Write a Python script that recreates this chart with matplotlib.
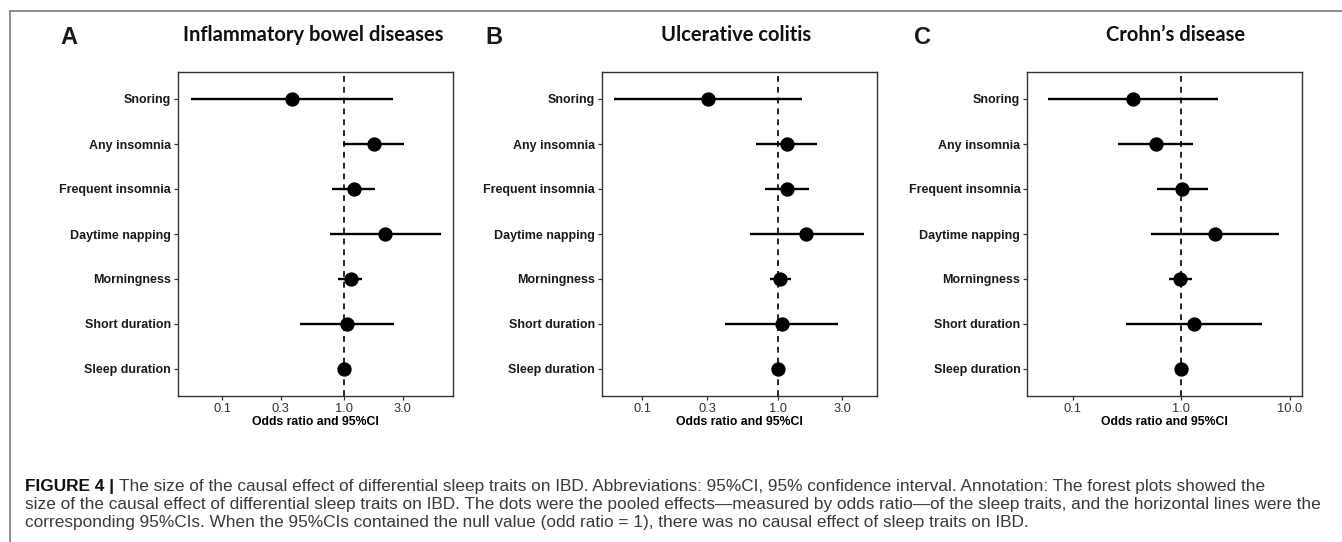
import matplotlib
matplotlib.use('Agg')
import matplotlib.pyplot as plt
from matplotlib.lines import Line2D
import numpy as np

# sleep traits, top to bottom
traits = ['Snoring', 'Any insomnia', 'Frequent insomnia', 'Daytime napping',
          'Morningness', 'Short duration', 'Sleep duration']

# odds ratios with 95% CI
ibd_or = [0.37, 1.73, 1.20, 2.15, 1.12, 1.05, 1.00]
ibd_lo = [0.055, 0.97, 0.79, 0.76, 0.89, 0.43, 0.97]
ibd_hi = [2.48, 3.09, 1.79, 6.10, 1.40, 2.56, 1.03]

uc_or = [0.306, 1.16, 1.16, 1.62, 1.04, 1.08, 1.00]
uc_lo = [0.062, 0.69, 0.80, 0.62, 0.87, 0.41, 0.97]
uc_hi = [1.51, 1.94, 1.69, 4.34, 1.25, 2.77, 1.03]

cd_or = [0.364, 0.586, 1.02, 2.05, 0.98, 1.31, 1.00]
cd_lo = [0.060, 0.265, 0.60, 0.53, 0.77, 0.31, 0.97]
cd_hi = [2.18, 1.29, 1.75, 7.93, 1.25, 5.50, 1.03]

titles = ['Inflammatory bowel diseases', 'Ulcerative colitis', "Crohn\u2019s disease"]
letters = ['A', 'B', 'C']
xticks_ab = [0.1, 0.3, 1.0, 3.0]
xticks_c = [0.1, 1.0, 10.0]
# panel C uses fixed scale limits
limits_c = (0.05, 10.0)

caption_bold = 'FIGURE 4 | '
caption = [
    'The size of the causal effect of differential sleep traits on IBD. Abbreviations: 95%CI, 95% confidence interval. Annotation: The forest plots showed the',
    'size of the causal effect of differential sleep traits on IBD. The dots were the pooled effects\u2014measured by odds ratio\u2014of the sleep traits, and the horizontal lines were the',
    'corresponding 95%CIs. When the 95%CIs contained the null value (odd ratio = 1), there was no causal effect of sleep traits on IBD.',
]

W, H = 1342, 542
fig = plt.figure(figsize=(W / 100, H / 100), dpi=100)
fig.patch.set_facecolor('white')

# outer frame (top and left edge)
fig.add_artist(Line2D([9.5 / W, 1.0], [1 - 10.5 / H, 1 - 10.5 / H], color='#7a7a7a', lw=1.2))
fig.add_artist(Line2D([9.5 / W, 9.5 / W], [1 - 10.5 / H, 0.0], color='#7a7a7a', lw=1.2))

panels = [(ibd_or, ibd_lo, ibd_hi), (uc_or, uc_lo, uc_hi), (cd_or, cd_lo, cd_hi)]
lefts = [178, 601.7, 1027.3]
title_x = [313, 736, 1176]
letter_x = [69, 494, 923]
ax_w = 275.0
ax_top, ax_bot = 72, 396

y = np.arange(len(traits))
for i, (est, lo, hi) in enumerate(panels):
    ax = fig.add_axes([lefts[i] / W, 1 - ax_bot / H, ax_w / W, (ax_bot - ax_top) / H])
    ax.set_xscale('log')
    ax.axvline(1.0, color='black', lw=1.2, ls=(0, (3.5, 3)), zorder=1)
    ax.hlines(y, lo, hi, color='black', lw=1.7, zorder=2)
    ax.plot(est, y, 'o', color='black', ms=9.3, zorder=3)

    # ggplot-like 5% expansion in log space
    if i == 2:
        a, b = np.log10(limits_c)
    else:
        a, b = np.log10(min(lo)), np.log10(max(hi))
    pad = (b - a) * 0.05
    ax.set_xlim(10 ** (a - pad), 10 ** (b + pad))
    ax.set_ylim(len(traits) - 0.4, -0.6)

    ticks = xticks_c if i == 2 else xticks_ab
    ax.set_xticks(ticks)
    ax.set_xticklabels(['%.1f' % t for t in ticks], fontsize=9.3, color='#333333',
                       family='Liberation Sans')
    ax.xaxis.set_minor_locator(matplotlib.ticker.NullLocator())
    ax.set_yticks(y)
    ax.set_yticklabels(traits, fontsize=9.0, fontweight='bold', color='#1a1a1a',
                       family='Liberation Sans')
    ax.tick_params(length=3, width=0.9, color='#333333', pad=2)
    for s in ax.spines.values():
        s.set_color('#333333')
        s.set_linewidth(1.0)
    ax.set_xlabel('Odds ratio and 95%CI', fontsize=8.8, fontweight='bold',
                  family='Liberation Sans', labelpad=1)

    fig.text(title_x[i] / W, 1 - 35 / H, titles[i], fontsize=14.5, fontweight='bold',
             family='Lato', ha='center', va='center', color='#111111')
    fig.text(letter_x[i] / W, 1 - 37 / H, letters[i], fontsize=17, fontweight='bold',
             family='Liberation Sans', ha='center', va='center', color='#1a1a1a')

# caption
fig.canvas.draw()
r = fig.canvas.get_renderer()
x0 = 25 / W
lines_y = [486, 504, 522.7]
tb = fig.text(x0, 1 - lines_y[0] / H, caption_bold, fontsize=12.4, fontweight='bold',
              family='Liberation Sans', va='center', color='#111111')
bw = tb.get_window_extent(r).width / W
for k, line in enumerate(caption):
    xx = x0 + bw if k == 0 else x0
    fig.text(xx, 1 - lines_y[k] / H, line, fontsize=12.4, family='Liberation Sans',
             va='center', color='#3a3a3a')

fig.savefig('out.png', dpi=100)
